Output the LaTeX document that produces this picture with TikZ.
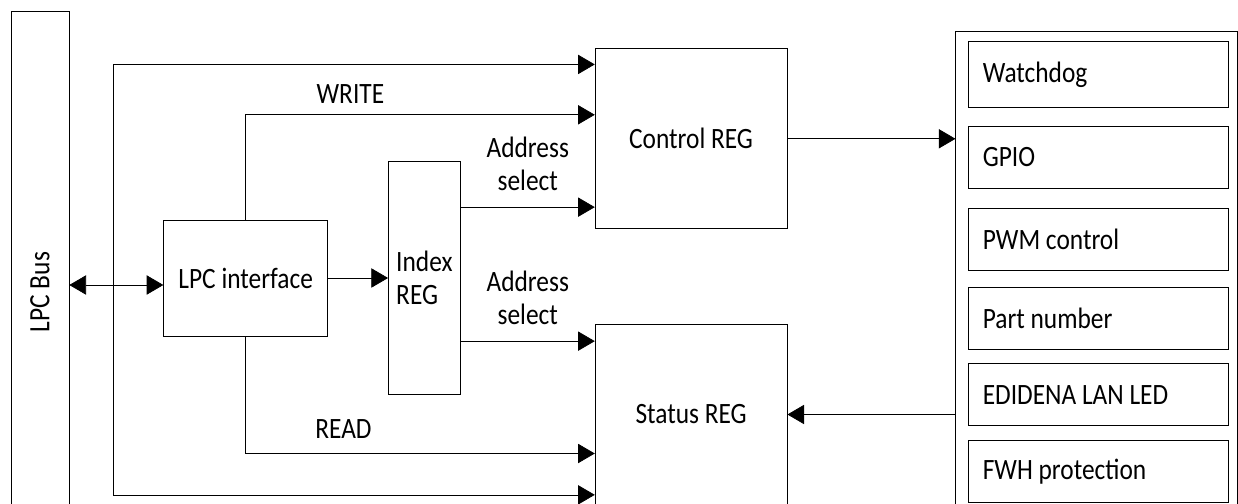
\documentclass[tikz,border=0pt]{standalone}
\usepackage{fontspec}
\setmainfont[FakeStretch=0.86]{Carlito}
\usepackage{tikz}
\usetikzlibrary{shapes,arrows.meta}
\usetikzlibrary{positioning}
\tikzset{auto,>={Triangle[length=9.5pt,width=11pt]}, minimum size=0pt, node distance=1cm, line width=1pt, font=\fontsize{16.8}{18.5}\selectfont}
\tikzstyle{block} = [draw, fill=white, rectangle, minimum height=3.6cm, minimum width=3.84cm, text centered, align=center]
\tikzstyle{bus} = [draw, rectangle, minimum height=11.24cm, minimum width=1.16cm]
\tikzstyle{unit} = [draw, rectangle, minimum height=1.24cm, text width=4.64cm, inner xsep=0.28cm, align=flush left]
\tikzstyle{tap} = [coordinate]

\begin{document}
\begin{tikzpicture}
    \useasboundingbox (0,0) rectangle (24.76,-10.08);
    \clip (0,0) rectangle (24.76,-10.08);
    \node [bus] (bus) at (0.8,-5.84) {\rotatebox{90}{LPC Bus}};
    \node [block, minimum width=3.28cm, minimum height=2.32cm, right=1.88cm of bus, yshift=0.28cm] (lpc) {LPC interface};
    \node [block, minimum width=1.44cm, minimum height=4.66cm, right=1.2cm of lpc, align=left] (index) {Index\\REG};
    \node [block, above right=-1.36cm and 2.68cm of index] (ctrl) {Control REG};
    \node [block, below=1.9cm of ctrl] (status) {Status REG};
    \node [draw, minimum width=5.64cm, minimum height=10.4cm, right=3.36cm of ctrl.north east, anchor=north west, yshift=0.34cm] (group) {};
    \node [unit, minimum height=1.32cm, below right=0.2cm and 0.26cm of group.north west] (watchdog) {Watchdog};
    \node [unit, below=0.36cm of watchdog] (gpio) {GPIO};
    \node [unit, below=0.38cm of gpio] (pwm) {PWM control};
    \node [unit, below=0.32cm of pwm] (partno) {Part number};
    \node [unit, below=0.28cm of partno] (lanled) {EDIDENA LAN LED};
    \node [unit, below=0.28cm of lanled] (fwh) {FWH protection};

    \node [tap, right=0.88cm of bus.east] (bus_tap) {};
    \node [tap, below=0.14cm of lpc.west] (lpc_in) {};
    \node [tap, above=0.44cm of ctrl.south west] (sel_ctrl) {};
    \node [tap, below=0.34cm of status.north west] (sel_status) {};

    \draw [<->] (bus.east |- lpc_in) -- (lpc_in);
    \draw [<->] ([yshift=-0.32cm]ctrl.north west) -| (bus_tap) |- ([yshift=0.2cm]status.south west);
    \draw [->] (lpc.north) |- node [pos=0.65, above=3pt] {WRITE} ([yshift=0.48cm]ctrl.west);
    \draw [->] (lpc.south) |- node [pos=0.64, above=5pt] {READ} ([yshift=-0.78cm]status.west);
    \draw [->] (lpc.east) -- (lpc.east -| index.west);
    \draw [->] (index.east |- sel_ctrl) -- node [above=6pt, align=center] {Address\\select} (sel_ctrl);
    \draw [->] (index.east |- sel_status) -- node [above=6pt, align=center] {Address\\select} (sel_status);
    \draw [->] (ctrl.east) -- (ctrl.east -| group.west);
    \draw [->] (status.east -| group.west) -- (status.east);
\end{tikzpicture}
\end{document}
